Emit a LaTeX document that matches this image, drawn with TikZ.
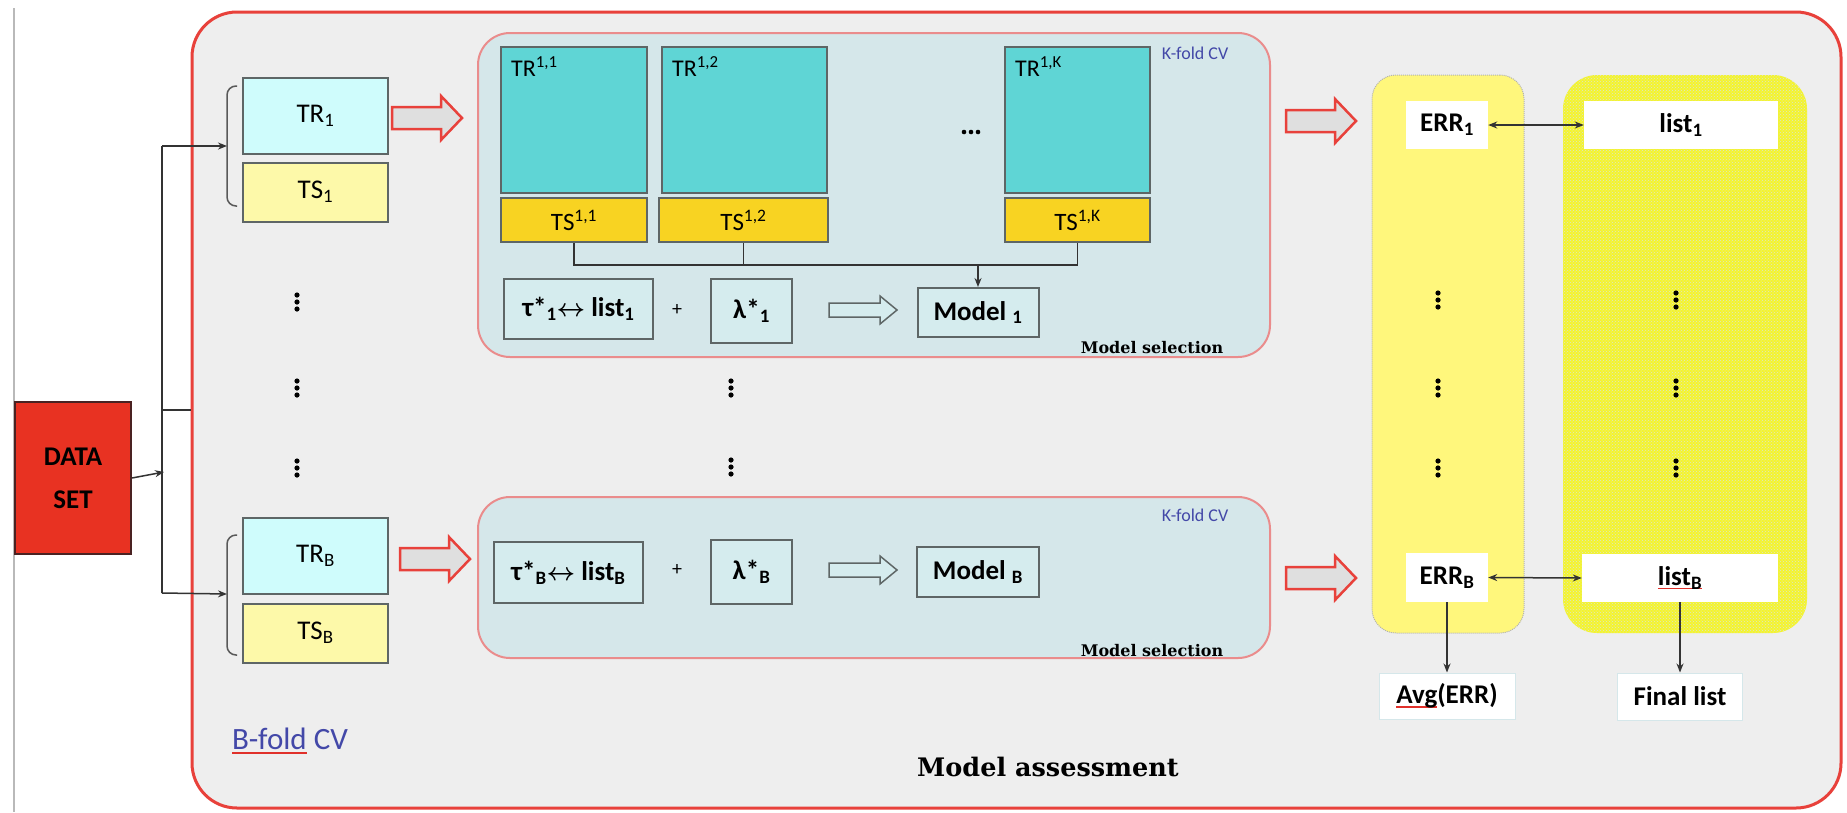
\documentclass[tikz,border=0pt]{standalone}
\usepackage{fontspec}
\setmainfont{Carlito}
\newfontfamily\slabfont{DejaVu Serif}
\usetikzlibrary{arrows.meta,patterns}

\definecolor{assessfill}{HTML}{EEEEEE}
\definecolor{assessred}{HTML}{E8413B}
\definecolor{selfill}{HTML}{D5E7EA}
\definecolor{selred}{HTML}{EA8C8C}
\definecolor{trlight}{HTML}{CFFCFC}
\definecolor{tslight}{HTML}{FDF9A9}
\definecolor{trdark}{HTML}{5FD5D5}
\definecolor{tsdark}{HTML}{F8D322}
\definecolor{boxline}{HTML}{5E6666}
\definecolor{parfill}{HTML}{D5ECEE}
\definecolor{datared}{HTML}{E83222}
\definecolor{datadark}{HTML}{4A2222}
\definecolor{errcolfill}{HTML}{FFF77C}
\definecolor{listcolfill}{HTML}{F4F42E}
\definecolor{listdots}{HTML}{DCE4CF}
\definecolor{cvblue}{HTML}{4348A8}
\definecolor{wirecol}{HTML}{333333}
\definecolor{spellred}{HTML}{E0302A}

\newsavebox\spellbox
\newcommand{\spellmark}[1]{\sbox\spellbox{#1}\rlap{\color{spellred}\rule[-4pt]{\wd\spellbox}{1.5pt}}\usebox\spellbox}

\tikzset{every node/.style = {inner sep=0pt, font=\fontsize{27}{32}\selectfont},
         assessbox/.style = {draw=assessred, line width=3pt, fill=assessfill, rounded corners=45pt},
         selbox/.style = {draw=selred, line width=2pt, fill=selfill, rounded corners=32pt},
         errcol/.style = {draw=gray!60, densely dotted, line width=1pt, fill=errcolfill, rounded corners=24pt,
                          minimum width=152, minimum height=558},
         listcol/.style = {preaction={fill=listcolfill}, pattern=crosshatch dots, pattern color=listdots,
                           rounded corners=34pt, minimum width=244, minimum height=558},
         databox/.style = {draw=datadark, line width=2pt, fill=datared, minimum width=116, minimum height=152,
                           align=center, font=\fontsize{27}{43}\selectfont\bfseries},
         trbox/.style = {draw=boxline, line width=2pt, fill=trlight, minimum width=145, minimum height=76},
         tsbox/.style = {draw=boxline, line width=2pt, fill=tslight, minimum width=145, minimum height=59},
         trk/.style = {draw=boxline, line width=2pt, fill=trdark, minimum height=146},
         tsk/.style = {draw=boxline, line width=2pt, fill=tsdark, minimum height=44, font=\fontsize{25}{30}\selectfont},
         parbox/.style = {draw=boxline, line width=2pt, fill=parfill, font=\fontsize{27}{32}\selectfont\bfseries},
         whitebox/.style = {fill=white, font=\fontsize{27}{32}\selectfont\bfseries},
         resultbox/.style = {fill=white, draw=selfill, line width=1pt, font=\fontsize{27}{32}\selectfont\bfseries},
         plus/.style = {font=\fontsize{20}{24}\selectfont},
         cvsmall/.style = {text=cvblue, font=\fontsize{18}{22}\selectfont},
         cvbig/.style = {text=cvblue, font=\fontsize{31}{36}\selectfont},
         selname/.style = {font=\fontsize{16}{18}\slabfont\bfseries},
         assessname/.style = {font=\fontsize{25.5}{30}\slabfont\bfseries},
         wire/.style = {draw=wirecol, line width=1.5pt},
         bracket/.style = {draw=gray!70!black, line width=1.5pt, rounded corners=9pt},
         pics/fatarrow/.style = {code={\path[pic actions] (0,-11) -- (49,-11) -- (49,-22) -- (70,0)
                                       -- (49,22) -- (49,11) -- (0,11) -- cycle;}},
         pics/thinarrow/.style = {code={\path[pic actions] (0,-7) -- (51,-7) -- (51,-14) -- (68,0)
                                        -- (51,14) -- (51,7) -- (0,7) -- cycle;}}}

\begin{document}
\begin{tikzpicture}[x=1pt, y=-1pt, >={Stealth[length=9pt, width=7pt]}]
    \fill[white] (0,0) rectangle (1847,812);
    \useasboundingbox (0,0) rectangle (1847,812);
    \draw[gray!55, line width=2pt] (14,8) -- (14,812);

    % frames
    \node[assessbox, minimum width=1649, minimum height=796] (assess) at (1016.5,410) {};
    \node[selbox, minimum width=792, minimum height=324] (sel1) at (874,195) {};
    \node[selbox, minimum width=792, minimum height=161] (selB) at (874,577.5) {};
    \node[errcol] (errcol) at (1448,354) {};
    \node[listcol] (listcol) at (1685,354) {};

    \node[databox] (data) at (73,478) {DATA\\SET};

    \node[trbox] (tr1) at (315.5,115.5) {TR\textsubscript{1}};
    \node[tsbox] (ts1) at (315.5,192) {TS\textsubscript{1}};
    \node[trbox] (trB) at (315.5,556) {TR\textsubscript{B}};
    \node[tsbox] (tsB) at (315.5,633) {TS\textsubscript{B}};
    \draw[bracket] (237,86) -- (227,86) -- (227,206) -- (237,206);
    \draw[bracket] (237,535) -- (227,535) -- (227,655) -- (237,655);

    \coordinate (top1) at (162,146); \coordinate (fork) at (164,472);
    \coordinate (stub) at (162,410); \coordinate (botB) at (162,593);
    \coordinate (brace1) at (227,146); \coordinate (braceB) at (227,594);
    \draw[wire] (top1) -- (botB);
    \draw[wire, ->] (data.east) -- (fork);
    \draw[wire, ->] (top1) -- (brace1);
    \draw[wire, ->] (botB) -- (braceB);
    \draw[wire] (stub) -- (assess.west);

    % inner K-fold CV
    \node[trk, minimum width=146, label={[anchor=north west, xshift=11pt, yshift=-10pt, font=\fontsize{24}{28}\selectfont]north west:TR\textsuperscript{1,1}}] (tr11) at (574,120) {};
    \node[trk, minimum width=165, label={[anchor=north west, xshift=11pt, yshift=-10pt, font=\fontsize{24}{28}\selectfont]north west:TR\textsuperscript{1,2}}] (tr12) at (744.5,120) {};
    \node[trk, minimum width=145, label={[anchor=north west, xshift=11pt, yshift=-10pt, font=\fontsize{24}{28}\selectfont]north west:TR\textsuperscript{1,K}}] (tr1K) at (1077.5,120) {};
    \node[tsk, minimum width=146] (ts11) at (574,220) {TS\textsuperscript{1,1}};
    \node[tsk, minimum width=169] (ts12) at (743.5,220) {TS\textsuperscript{1,2}};
    \node[tsk, minimum width=145] (ts1K) at (1077.5,220) {TS\textsuperscript{1,K}};
    \node[cvsmall] (kcv1) at (1195,53) {K-fold CV};
    \node[cvsmall] (kcvB) at (1195,515) {K-fold CV};

    \coordinate (bus1) at (978,265);
    \draw[wire] (ts11.south) |- (bus1);
    \draw[wire] (ts12.south) |- (bus1);
    \draw[wire] (ts1K.south) |- (bus1);

    \node[parbox, minimum width=149, minimum height=60] (tau1) at (578.5,309) {τ*\textsubscript{1}{\boldmath$\leftrightarrow$} list\textsubscript{1}};
    \node[plus] (plus1) at (677,310) {+};
    \node[parbox, minimum width=81, minimum height=64] (lam1) at (751.5,311) {λ*\textsubscript{1}};
    \node[parbox, minimum width=121, minimum height=49] (model1) at (978,312.5) {Model \textsubscript{1}};
    \draw[wire, ->] (bus1) -- (model1.north);

    \node[parbox, minimum width=149, minimum height=61] (tauB) at (568.5,572.5) {τ*\textsubscript{B}{\boldmath$\leftrightarrow$} list\textsubscript{B}};
    \node[plus] (plusB) at (677,570) {+};
    \node[parbox, minimum width=81, minimum height=64] (lamB) at (751.5,572) {λ*\textsubscript{B}};
    \node[parbox, minimum width=122, minimum height=50] (modelB) at (978,572) {Model \textsubscript{B}};

    \pic[draw=boxline, fill=parfill, line width=1.5pt] at (829,310) {thinarrow};
    \pic[draw=boxline, fill=parfill, line width=1.5pt] at (829,570) {thinarrow};

    \node[selname] (sel1name) at (1152,348) {Model selection};
    \node[selname] (selBname) at (1152,651) {Model selection};

    % red arrows
    \pic[draw=assessred, fill=gray!25, line width=2.5pt] at (392,118) {fatarrow};
    \pic[draw=assessred, fill=gray!25, line width=2.5pt] at (400,559) {fatarrow};
    \pic[draw=assessred, fill=gray!25, line width=2.5pt] at (1286,121) {fatarrow};
    \pic[draw=assessred, fill=gray!25, line width=2.5pt] at (1286,578) {fatarrow};

    % results
    \node[whitebox, minimum width=82, minimum height=48] (err1) at (1447,125) {ERR\textsubscript{1}};
    \node[whitebox, minimum width=194, minimum height=48] (list1) at (1681,125) {list\textsubscript{1}};
    \node[whitebox, minimum width=82, minimum height=49] (errB) at (1447,577.5) {ERR\textsubscript{B}};
    \node[whitebox, minimum width=196, minimum height=48] (listB) at (1680,578) {\spellmark{list\textsubscript{B}}};
    \node[resultbox, minimum width=136, minimum height=46] (avg) at (1447,696) {\spellmark{Avg}(ERR)};
    \node[resultbox, minimum width=125, minimum height=47] (final) at (1680,696.5) {Final list};
    \draw[wire, <->] (err1.east) -- (list1.west);
    \draw[wire, <->] (errB.east) -- (listB.west);
    \draw[wire, ->] (errB.south) -- (avg.north);
    \draw[wire, ->] (listB.south) -- (final.north);

    % dots
    \foreach \x/\y in {297/302, 297/388, 297/468, 731/388, 731/467,
                       1438/300, 1438/388, 1438/468, 1676/300, 1676/388, 1676/468}
      \foreach \k in {-7,0,7} \fill (\x,\y+\k) circle (2.6);
    \foreach \k in {-7,0,7} \fill (971+\k,132) circle (2.3);

    \node[cvbig] (bcv) at (290,741) {\spellmark{B-fold} CV};
    \node[assessname] (assessname) at (1048,767) {Model assessment};
\end{tikzpicture}
\end{document}
